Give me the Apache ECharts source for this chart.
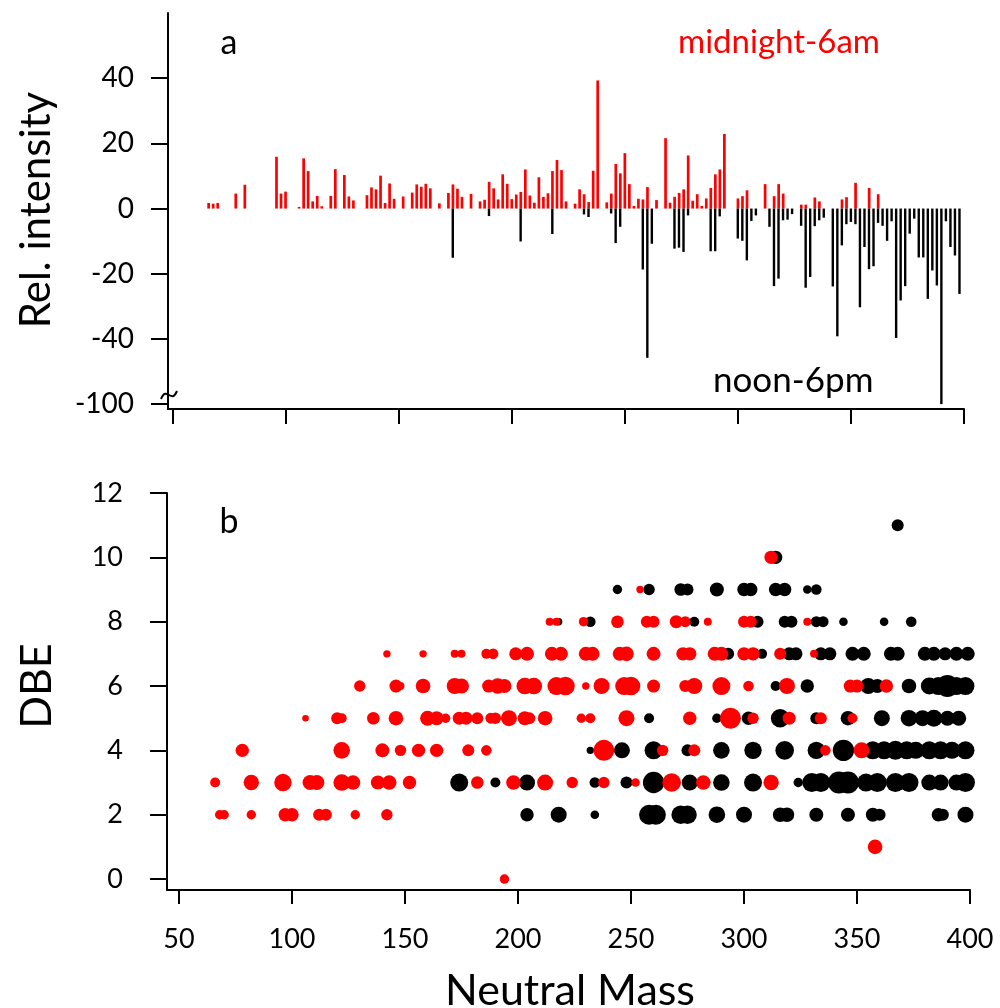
<!DOCTYPE html>
<html>
<head>
<meta charset="utf-8">
<script src="https://cdn.jsdelivr.net/npm/echarts@6/dist/echarts.min.js"></script>
<style>
html,body{margin:0;padding:0;background:#fff;}
#c{width:1000px;height:1008px;}
</style>
</head>
<body>
<div id="c"></div>
<script>
// ---- Panel a: relative intensity per neutral mass ----
const midnightBars = [[66,1.7],[68,1.5],[70,1.7],[78,4.6],[82,7.3],[96,15.9],[98,4.6],[100,5.2],[106,0.5],[108,15.4],[110,11.5],[112,2.2],[114,3.9],[116,0.7],[120,3.9],[122,12.1],[126,10.3],[128,3.7],[130,2.5],[136,4.1],[138,6.5],[140,5.9],[142,10.1],[144,1.7],[146,7.7],[148,3.0],[152,3.7],[156,4.9],[158,7.4],[160,6.7],[162,7.6],[164,6.2],[168,1.6],[172,4.8],[174,7.4],[176,6.1],[178,3.6],[182,4.5],[186,2.2],[188,2.7],[190,8.2],[192,6.2],[194,2.8],[196,10.5],[198,7.6],[200,2.9],[202,4.3],[204,5.1],[206,12.0],[208,4.0],[210,1.8],[212,9.6],[214,3.6],[216,4.7],[218,11.5],[220,14.9],[222,11.8],[224,2.2],[228,1.5],[230,5.9],[232,4.4],[234,2.0],[236,11.6],[238,39.3],[242,1.9],[244,4.6],[246,13.7],[248,10.8],[250,17.0],[252,7.5],[254,0.8],[256,3.0],[258,2.8],[260,6.6],[264,2.6],[268,21.6],[270,1.8],[272,3.6],[274,4.8],[276,5.9],[278,16.3],[280,2.4],[282,4.4],[284,0.8],[286,3.1],[288,6.3],[290,10.5],[292,12.0],[294,22.9],[300,3.1],[302,3.8],[304,5.6],[312,7.5],[316,3.8],[318,7.5],[320,4.6],[328,1.2],[330,1.2],[334,3.4],[336,2.2],[346,2.8],[348,3.5],[352,7.9],[358,6.3],[362,4.4]];
const noonBars = [[174,-15.1],[190,-2.3],[204,-10.1],[218,-7.8],[232,-1.8],[234,-2.6],[244,-1.5],[246,-10.6],[248,-5.6],[258,-18.7],[260,-45.8],[262,-10.8],[272,-12.3],[274,-12.0],[276,-13.3],[278,-2.1],[288,-13.1],[290,-13.1],[292,-2.4],[300,-9.2],[302,-9.9],[304,-15.9],[306,-3.8],[308,-2.1],[314,-5.6],[316,-23.8],[318,-21.5],[320,-3.6],[322,-3.4],[324,-1.7],[328,-5.3],[330,-24.3],[332,-21.0],[334,-5.4],[336,-3.6],[338,-2.8],[342,-23.9],[344,-39.2],[346,-11.3],[348,-4.8],[350,-4.1],[352,-4.8],[354,-30.3],[356,-11.8],[358,-18.6],[360,-17.7],[362,-4.4],[364,-5.3],[366,-9.9],[368,-3.9],[370,-39.7],[372,-28.2],[374,-23.8],[376,-7.7],[378,-3.1],[380,-15.0],[382,-15.0],[384,-27.7],[386,-19.0],[388,-23.6],[390,-100],[392,-3.9],[394,-11.8],[396,-14.4],[398,-26.2]];
const intensityTicks = [-60,-40,-20,0,20,40];   // -60 is the axis break, labelled -100
const breakValue = -60, breakLabel = '-100';
const massTicks = [50,100,150,200,250,300,350,400];

// ---- Panel b: DBE vs neutral mass, [mass, DBE, abundance] ----
const midnightPts = [
 [194,0,4.7],[358,1,7.3],
 [68,2,4.7],[70,2,4.7],[82,2,4.7],[97,2,6.7],[100,2,6.7],[112,2,6],[115,2,6],[128,2,4.7],[142,2,5.7],
 [66,3,5],[82,3,7.7],[96,3,8.7],[108,3,7.5],[111,3,7.5],[122,3,8.3],[127,3,7.3],[138,3,7],[143,3,7.3],[152,3,6.7],[182,3,6.3],[198,3,7.3],[212,3,8],[224,3,5.7],[238,3,5.7],[252,3,4.3],[268,3,9.3],[282,3,7.3],[312,3,7.7],
 [78,4,6.7],[122,4,8.3],[140,4,7],[148,4,5.7],[156,4,6.7],[164,4,6.7],[178,4,6],[186,4,5.3],[238,4,10.5],[264,4,5.7],[278,4,6],[336,4,5.3],[352,4,8],
 [106,5,3.3],[120,5,6],[122,5,5],[136,5,6.3],[146,5,7.3],[160,5,7.5],[164,5,7],[168,5,4.7],[174,5,6.5],[177,5,6.5],[182,5,6],[188,5,5.5],[190,5,5.7],[196,5,8],[203,5,7],[205,5,6],[212,5,7.3],[228,5,4.7],[232,5,5],[248,5,8],[276,5,6.7],[294,5,10.5],[304,5,5.7],[320,5,6.5],[334,5,6],[348,5,5],
 [130,6,5.7],[146,6,6.5],[148,6,4],[158,6,7.3],[172,6,8],[175,6,7.5],[187,6,6.5],[191,6,7.7],[194,6,7],[203,6,8.3],[207,6,8.3],[217,6,9],[221,6,9.3],[230,6,3.7],[237,6,8],[247,6,9],[250,6,9.3],[260,6,6.5],[274,6,6],[278,6,8],[290,6,9],[302,6,5.3],[319,6,8],[347,6,6.5],[350,6,6.5],[363,6,6.7],
 [142,7,3.7],[158,7,3.7],[172,7,4],[175,7,4],[186,7,5],[189,7,5.3],[199,7,6.5],[204,7,7],[215,7,7],[219,7,7],[230,7,7],[233,7,7],[245,7,7],[248,7,7.3],[260,7,7],[273,7,6.7],[276,7,6.7],[287,7,7],[290,7,7],[300,7,6.7],[304,7,6.7],[316,7,6],[331,7,4],
 [214,8,4],[217,8,4],[229,8,4.7],[244,8,6.3],[257,8,6],[260,8,6],[270,8,6.5],[274,8,5.5],[284,8,4],[300,8,6],[303,8,6],[328,8,4],
 [254,9,3.7],[312,10,6.7]
];
const noonPts = [
 [204,2,6.7],[218,2,8],[234,2,4.3],[258,2,10],[261,2,10],[272,2,9.3],[275,2,9.3],[288,2,8.3],[300,2,8],[316,2,7.3],[319,2,7.3],[332,2,7],[346,2,7],[357,2,7],[360,2,6],[386,2,6.7],[388,2,6],[398,2,8],
 [174,3,9],[190,3,5],[204,3,8],[234,3,5.3],[248,3,6],[260,3,10.7],[276,3,8],[290,3,8.3],[304,3,9],[324,3,4.7],[330,3,9.5],[334,3,9.5],[342,3,11],[346,3,11],[354,3,9],[359,3,9.5],[367,3,9.5],[373,3,9.5],[382,3,8],[387,3,8],[394,3,8],[398,3,9.5],
 [232,4,3.7],[246,4,8],[260,4,9],[275,4,6],[290,4,8.3],[304,4,8.7],[318,4,9.3],[332,4,8.7],[344,4,10.7],[357,4,9],[362,4,9],[367,4,9.5],[372,4,9],[376,4,8.5],[382,4,9],[387,4,9],[392,4,8.5],[398,4,9],
 [258,5,5],[288,5,4.7],[302,5,6.7],[316,5,9.3],[332,5,6],[346,5,7.3],[361,5,8],[373,5,8.3],[379,5,8],[384,5,8.5],[390,5,7.5],[395,5,7.5],
 [314,6,5],[328,6,6.7],[355,6,8],[359,6,7],[373,6,7.3],[382,6,8.5],[386,6,9],[390,6,11],[394,6,9],[398,6,9],
 [293,7,6],[308,7,5],[320,7,6.5],[323,7,6.5],[334,7,6.5],[338,7,6.5],[348,7,7],[353,7,7],[365,7,7],[368,7,7],[380,7,7],[384,7,7],[389,7,6.5],[394,7,7],[399,7,7],
 [218,8,3.7],[232,8,5.3],[278,8,5],[306,8,6],[318,8,6],[321,8,6],[332,8,5.5],[335,8,5.5],[344,8,4.3],[362,8,4.3],[374,8,5.3],
 [244,9,4.7],[258,9,5.7],[272,9,6.3],[275,9,6],[288,9,7],[300,9,6.7],[303,9,6.7],[314,9,6.7],[318,9,6.7],[328,9,4.3],[332,9,5.3],
 [314,10,6.7],[368,11,6]
];
const dbeTicks = [0,2,4,6,8,10,12];

const RED = '#ff0000', BLACK = '#000000';
const FONT = 'Lato';
const clipBreak = v => (v < breakValue ? breakValue : v);

const chart = echarts.init(document.getElementById('c'), null, {renderer:'canvas'});
const axLine = {show:true, onZero:false, lineStyle:{color:'#000', width:2}};
const axTick = (vals, len) => ({show:true, inside:false, length:len, lineStyle:{color:'#000', width:2}, customValues: vals});
const lbl = (vals, margin, size, extra) => Object.assign({show:true, customValues:vals, fontSize:size, color:'#000', fontFamily:FONT, margin:margin}, extra||{});
const txt = (x, y, text, size, color, align, rot) => ({
  type:'text', x:x, y:y, rotation:rot||0,
  style:{text:text, fontSize:size, fontFamily:FONT, fill:color, align:align, verticalAlign:'middle', textAlign:align, textVerticalAlign:'middle'}
});

chart.setOption({
  animation:false,
  backgroundColor:'#fff',
  textStyle:{fontFamily:FONT},
  grid:[
    {left:168, top:13, width:796, height:396, containLabel:false},
    {left:167, top:493, width:803, height:397, containLabel:false}
  ],
  xAxis:[
    {gridIndex:0, type:'value', min:48.1, max:400, axisLine:axLine, axisTick:axTick(massTicks,15),
     axisLabel:{show:false}, splitLine:{show:false}},
    {gridIndex:1, type:'value', min:44.7, max:400, axisLine:axLine, axisTick:axTick(massTicks,14),
     axisLabel:lbl(massTicks, 36, 27), splitLine:{show:false}}
  ],
  yAxis:[
    {gridIndex:0, type:'value', min:-61.5, max:60, axisLine:axLine, axisTick:axTick(intensityTicks,17),
     axisLabel:lbl(intensityTicks, 34, 28, {formatter: v => (v === breakValue ? breakLabel : String(v))}),
     splitLine:{show:false}},
    {gridIndex:1, type:'value', min:-0.34, max:12, axisLine:axLine, axisTick:axTick(dbeTicks,17),
     axisLabel:lbl(dbeTicks, 44, 27), splitLine:{show:false}}
  ],
  series:[
    {type:'bar', xAxisIndex:0, yAxisIndex:0, barWidth:2.7, barGap:'-100%',
     itemStyle:{color:RED}, data: midnightBars.map(d => [d[0], d[1]])},
    {type:'bar', xAxisIndex:0, yAxisIndex:0, barWidth:2.4, barGap:'-100%',
     itemStyle:{color:BLACK}, data: noonBars.map(d => [d[0], clipBreak(d[1])])},
    {type:'scatter', xAxisIndex:1, yAxisIndex:1, symbol:'circle',
     symbolSize: d => 2*d[2], itemStyle:{color:BLACK, opacity:1}, data: noonPts},
    {type:'scatter', xAxisIndex:1, yAxisIndex:1, symbol:'circle',
     symbolSize: d => 2*d[2], itemStyle:{color:RED, opacity:1}, data: midnightPts}
  ],
  graphic:[
    txt(229, 43, 'a', 34, '#000', 'center'),
    txt(880, 42, 'midnight-6am', 33, RED, 'right'),
    txt(713, 381, 'noon-6pm', 35, '#000', 'left'),
    txt(229, 522, 'b', 34, '#000', 'center'),
    txt(36, 210, 'Rel. intensity', 42, '#000', 'center', Math.PI/2),
    txt(37, 686, 'DBE', 43, '#000', 'center', Math.PI/2),
    txt(570, 991, 'Neutral Mass', 43, '#000', 'center'),
    {type:'bezierCurve', z:100,
     shape:{x1:161, y1:399, cpx1:167, cpy1:385, cpx2:171, cpy2:405, x2:177, y2:391},
     style:{fill:null, stroke:'#000', lineWidth:2}}
  ]
});
</script>
</body>
</html>
